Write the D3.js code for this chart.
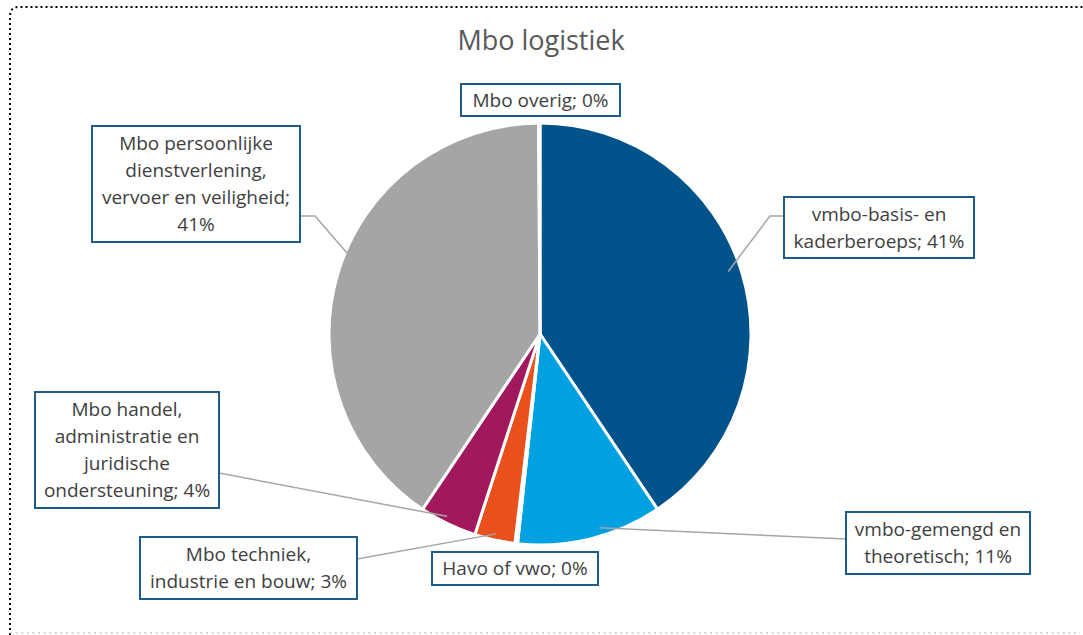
<!DOCTYPE html>
<html>
<head>
<meta charset="utf-8">
<script src="https://cdn.jsdelivr.net/npm/d3@7"></script>
<style>
  body { margin: 0; background: #fff; }
  svg text { font-family: "Open Sans", "Noto Sans", sans-serif; fill: #404040; }
</style>
</head>
<body>
<svg width="1083" height="635"></svg>
<script>
// data (percentages)
var categories = [
  "vmbo-basis- en kaderberoeps",
  "vmbo-gemengd en theoretisch",
  "Havo of vwo",
  "Mbo techniek, industrie en bouw",
  "Mbo handel, administratie en juridische ondersteuning",
  "Mbo persoonlijke dienstverlening, vervoer en veiligheid",
  "Mbo overig"
];
var values = [40.6, 11.1, 0.2, 3.1, 4.4, 40.5, 0.1];
var colours = ["#00528a", "#00a0e1", "#ffffff", "#e9501c", "#a1185c", "#a5a5a5", "#ffffff"];
// label text lines (how the labels wrap)
var labelLines = [
  ["vmbo-basis- en", "kaderberoeps; "],
  ["vmbo-gemengd en", "theoretisch; "],
  ["Havo of vwo; "],
  ["Mbo techniek,", "industrie en bouw; "],
  ["Mbo handel,", "administratie en", "juridische", "ondersteuning; "],
  ["Mbo persoonlijke", "dienstverlening,", "vervoer en veiligheid;", ""],
  ["Mbo overig; "]
];

// label box layout: x, y, w, h, where the leader leaves the box, elbow point
var labelBoxes = [
  {x: 784, y: 197, w: 190, h: 61, ax: 784, ay: 216, ex: 770, ey: 216},
  {x: 846, y: 512, w: 184, h: 62, ax: 846, ay: 539},
  {x: 432, y: 552, w: 166, h: 33, line: false},
  {x: 140, y: 537, w: 217, h: 62, ax: 357, ay: 559},
  {x: 35, y: 392, w: 184, h: 116, ax: 219, ay: 473},
  {x: 92, y: 126, w: 208, h: 116, ax: 300, ay: 216, ex: 315, ey: 216},
  {x: 461, y: 84, w: 159, h: 32, line: false}
];
// where the leader line lands: fraction of the slice angle, fraction of the radius
var anchorAt = [0.49, 0.42, 0.5, 0.5, 0.57, 0.54, 0.5];
var anchorR = [0.94, 0.96, 0.97, 0.97, 0.97, 0.985, 0.97];

var svg = d3.select("svg");
var cx = 540, cy = 334, radius = 211;

// frame
var frame = svg.append("g");
frame.append("path")
    .attr("d", "M10,635 L10,16 Q10,7 19,7 L1083,7")
    .attr("fill", "none")
    .attr("stroke", "#000")
    .attr("stroke-width", 2)
    .attr("stroke-dasharray", "2,3");
frame.append("line")
    .attr("x1", 10).attr("y1", 633).attr("x2", 1080).attr("y2", 633)
    .attr("stroke", "#c8c8c8")
    .attr("stroke-width", 1.5)
    .attr("stroke-dasharray", "2,3.6");

// title
svg.append("text")
    .attr("x", 541).attr("y", 50)
    .attr("text-anchor", "middle")
    .style("font-size", "27px")
    .style("fill", "#595959")
    .text("Mbo logistiek");

var pie = d3.pie().sort(null).value(function(d) { return d; });
var arcs = pie(values);
var arc = d3.arc().innerRadius(0).outerRadius(radius);

var g = svg.append("g").attr("transform", "translate(" + cx + "," + cy + ")");

g.selectAll("path.slice")
    .data(arcs)
    .enter().append("path")
    .attr("class", "slice")
    .attr("d", arc)
    .attr("fill", function(d, i) { return colours[i]; })
    .attr("stroke", "#fff")
    .attr("stroke-width", 3)
    .attr("stroke-linejoin", "round");

// leader lines
arcs.forEach(function(d, i) {
  var b = labelBoxes[i];
  if (b.line === false) return;
  var a = d.startAngle + (d.endAngle - d.startAngle) * anchorAt[i];
  var r = radius * anchorR[i];
  var px = cx + r * Math.sin(a), py = cy - r * Math.cos(a);
  var pts = [[b.ax, b.ay]];
  if (b.ex !== undefined) pts.push([b.ex, b.ey]);
  pts.push([px, py]);
  svg.append("path")
      .attr("d", d3.line()(pts))
      .attr("fill", "none")
      .attr("stroke", "#a6a6a6")
      .attr("stroke-width", 1.5);
});

// label boxes
arcs.forEach(function(d, i) {
  var b = labelBoxes[i];
  var lg = svg.append("g");
  lg.append("rect")
      .attr("x", b.x).attr("y", b.y)
      .attr("width", b.w).attr("height", b.h)
      .attr("fill", "#fff")
      .attr("stroke", "#1f5c8b")
      .attr("stroke-width", 2);
  var lines = labelLines[i].slice();
  lines[lines.length - 1] += Math.round(values[i]) + "%";
  var lh = 27;
  var top = b.y + b.h / 2 - (lines.length * lh) / 2;
  var t = lg.append("text")
      .attr("text-anchor", "middle")
      .style("font-size", "19px");
  lines.forEach(function(l, k) {
    t.append("tspan")
        .attr("x", b.x + b.w / 2)
        .attr("y", top + k * lh + 20)
        .text(l);
  });
});
</script>
</body>
</html>
